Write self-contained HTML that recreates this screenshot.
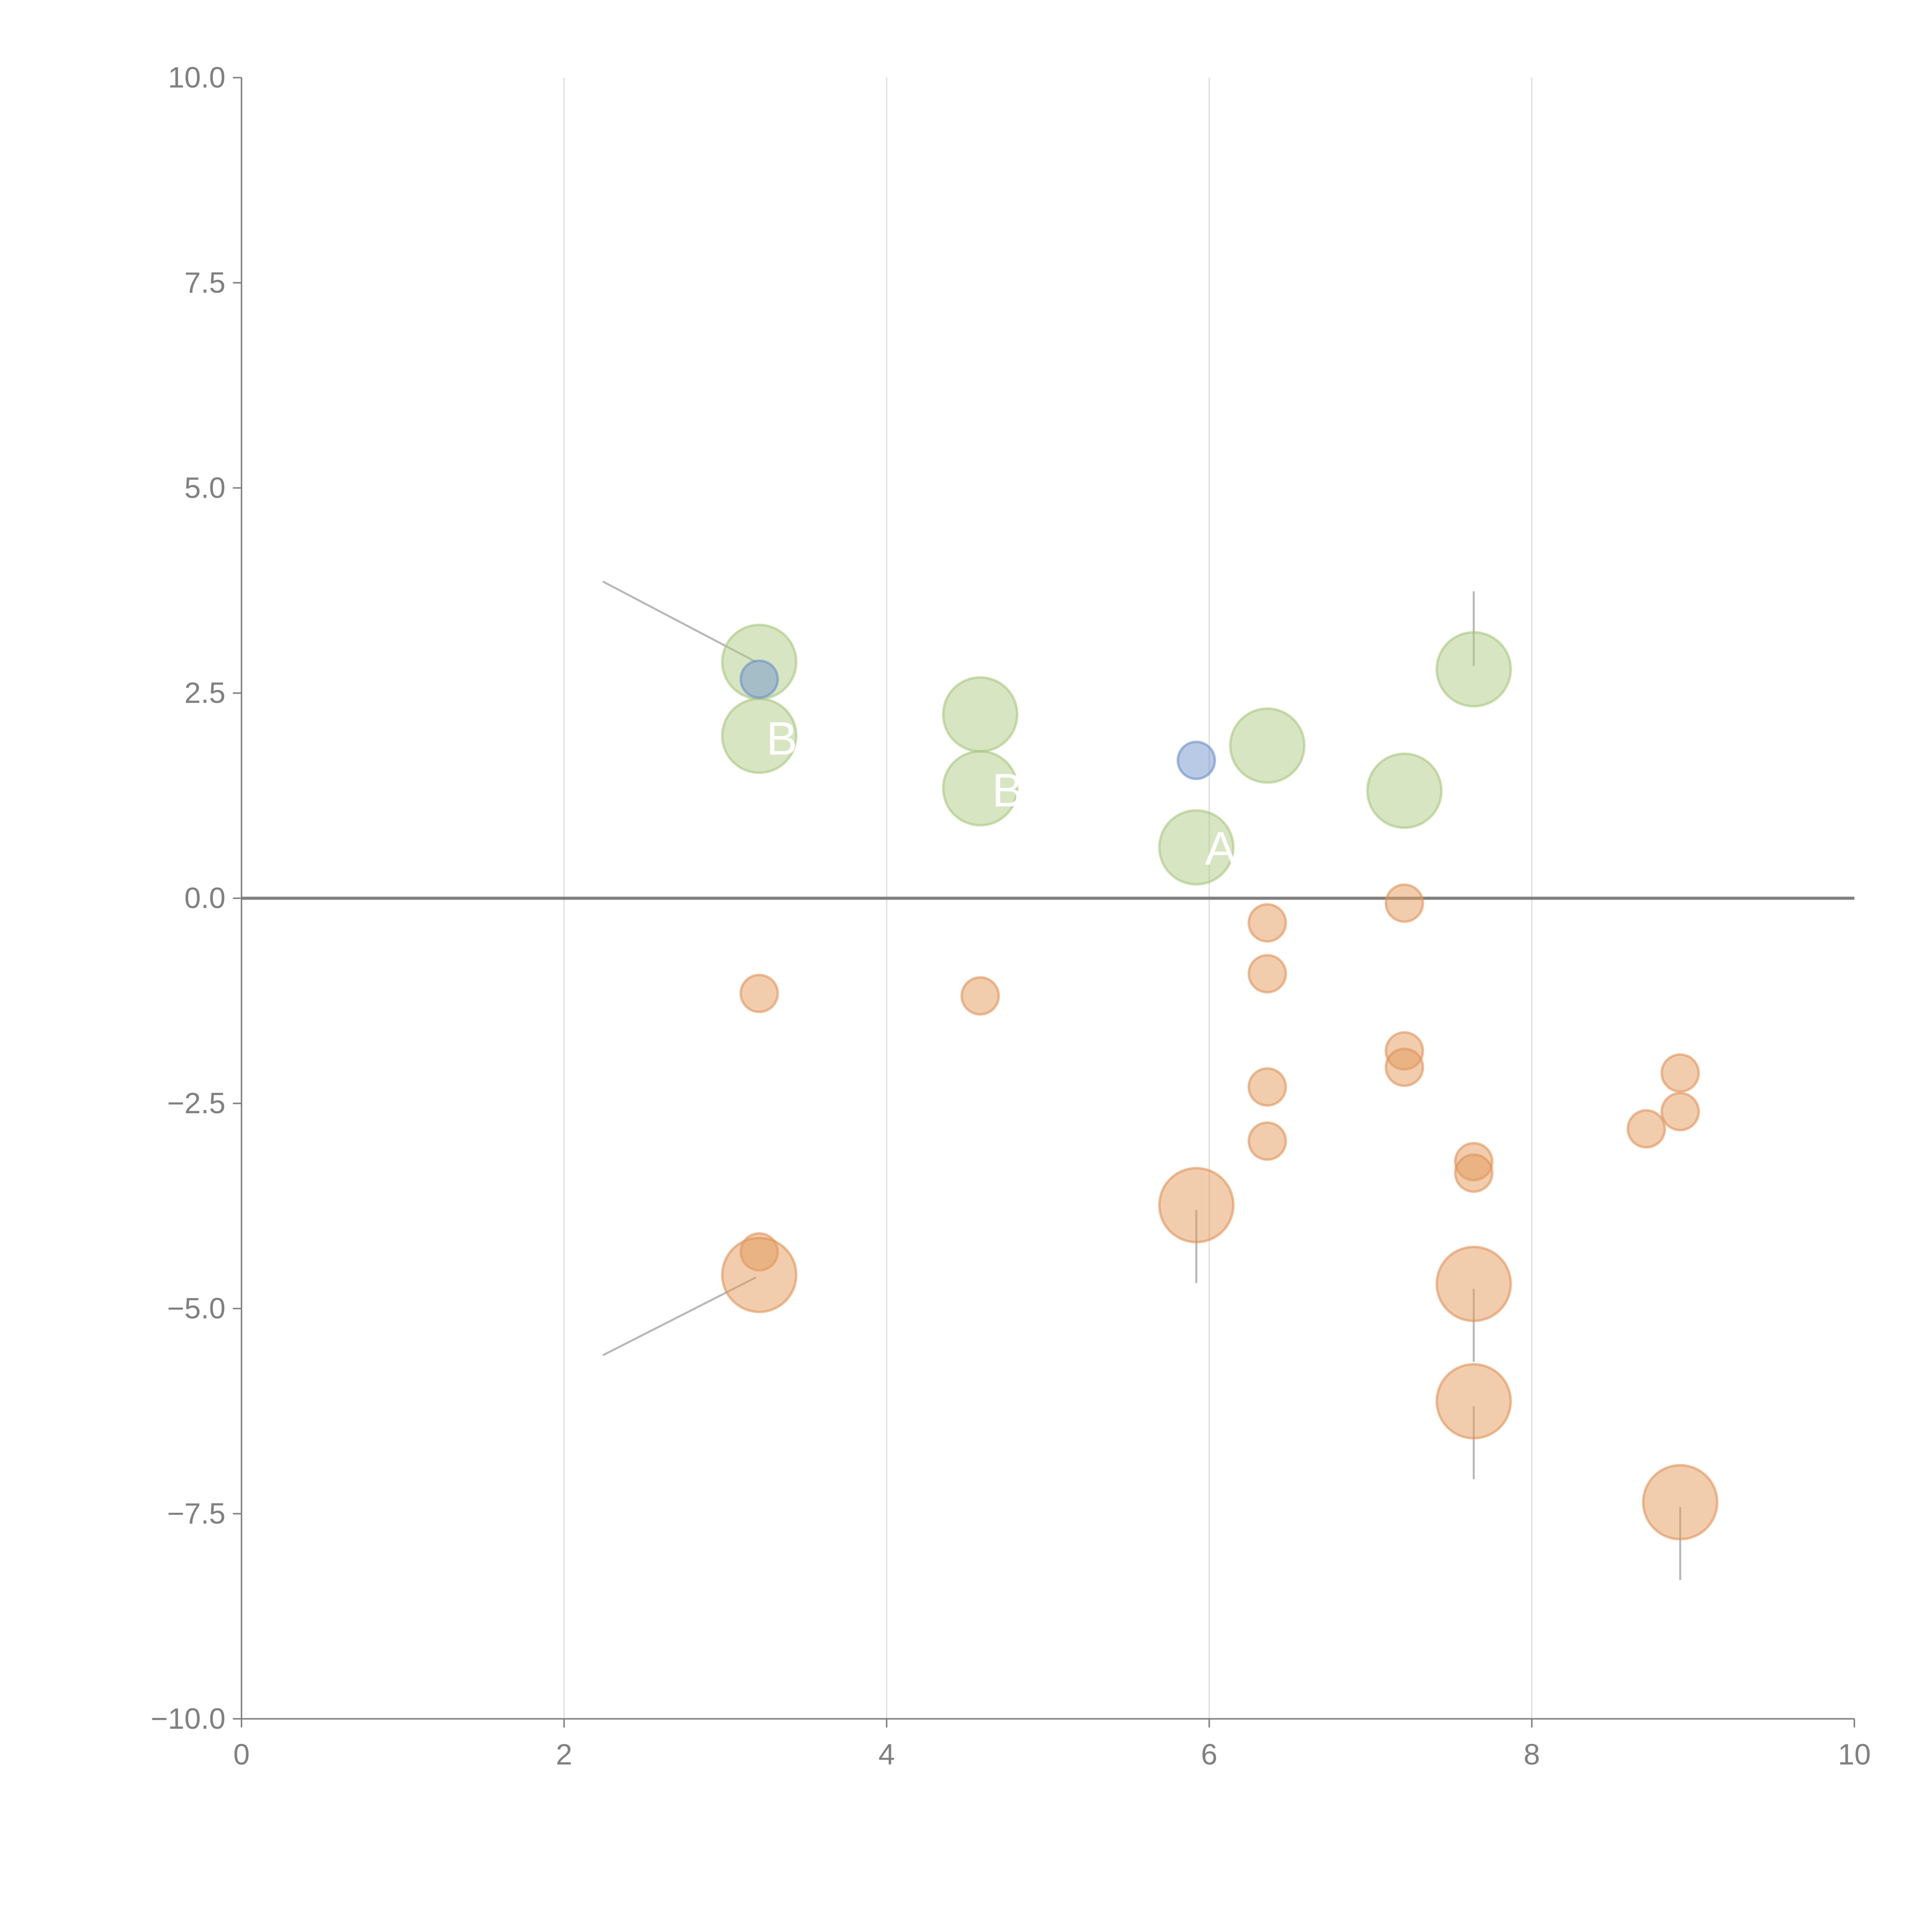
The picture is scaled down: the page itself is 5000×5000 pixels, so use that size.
<!DOCTYPE html>
<html><head><meta charset="utf-8"><style>html,body{margin:0;padding:0;background:#fff}svg{display:block}</style></head>
<body>
<svg id="chart" width="5000" height="5000" viewBox="0 0 1568 1568" xmlns="http://www.w3.org/2000/svg" font-family="Liberation Sans, sans-serif">
<g id="grid"></g>
<g id="axes"></g>
<g id="leaders"></g>
<g id="marks"></g>
<g id="labels"></g>
</svg>
<script>
const xTicks=[0,2,4,6,8,10];
const yTicks=[10,7.5,5,2.5,0,-2.5,-5,-7.5,-10];
const yTickLabels=["10.0","7.5","5.0","2.5","0.0","\u22122.5","\u22125.0","\u22127.5","\u221210.0"];
const greenX=[3.21,3.21,4.58,4.58,6.36,7.64,7.21,5.92];
const greenY=[2.88,1.98,2.24,1.34,1.86,2.79,1.31,0.62];
const blueX=[3.21,5.92];
const blueY=[2.67,1.68];
const orangeSmallX=[3.21,4.58,6.36,6.36,6.36,6.36,7.21,7.21,7.21,7.64,7.64,8.92,8.92,8.71,3.21];
const orangeSmallY=[-1.16,-1.19,-0.30,-0.92,-2.30,-2.96,-0.06,-1.86,-2.06,-3.21,-3.35,-2.13,-2.60,-2.81,-4.31];
const orangeLargeX=[3.21,5.92,7.64,7.64,8.92];
const orangeLargeY=[-4.59,-3.74,-4.70,-6.13,-7.36];
const leaderX1=[2.24,2.24,7.64,5.92,7.64,7.64,8.92];
const leaderY1=[3.86,-5.57,3.74,-3.80,-4.76,-6.19,-7.42];
const leaderX2=[3.19,3.19,7.64,5.92,7.64,7.64,8.92];
const leaderY2=[2.88,-4.62,2.83,-4.69,-5.65,-7.08,-8.31];
const labelText=["B","B","A"];
const labelX=[3.35,4.75,6.07];
const labelY=[1.96,1.33,0.62];

const NS="http://www.w3.org/2000/svg";
const X=v=>196+v*130.9, Y=v=>729-v*66.6;
function mk(tag,attrs,parent){const e=document.createElementNS(NS,tag);for(const k in attrs)e.setAttribute(k,attrs[k]);document.getElementById(parent).appendChild(e);return e;}
xTicks.forEach(v=>{
  if(v>0&&v<10){const g=mk('line',{x1:X(v),x2:X(v),y1:Y(10),y2:Y(-10),stroke:'#dddddd','stroke-width':1},'grid');
  
  }
  const t=mk('line',{x1:X(v),x2:X(v),y1:Y(-10),y2:Y(-10)+7,stroke:'#808080','stroke-width':1.2},'axes');
  
  
  const l=mk('text',{x:X(v),y:Y(-10)+37,'text-anchor':'middle','font-size':24,fill:'#808080'},'axes');l.textContent=v;
  
  
});
yTicks.forEach((v,i)=>{
  const t=mk('line',{x1:X(0)-7,x2:X(0),y1:Y(v),y2:Y(v),stroke:'#808080','stroke-width':1.2},'axes');
  
  
  const l=mk('text',{x:X(0)-13,y:Y(v)+8,'text-anchor':'end','font-size':24,fill:'#808080'},'axes');l.textContent=yTickLabels[i];
  
  
});
let a=mk('line',{x1:X(0),x2:X(0),y1:Y(10),y2:Y(-10),stroke:'#808080','stroke-width':1.2},'axes');


a=mk('line',{x1:X(0),x2:X(10),y1:Y(-10),y2:Y(-10),stroke:'#808080','stroke-width':1.2},'axes');


a=mk('line',{x1:X(0),x2:X(10),y1:Y(0),y2:Y(0),stroke:'#808080','stroke-width':2.5},'axes');


leaderX1.forEach((v,i)=>{
  const l=mk('line',{x1:X(v),y1:Y(leaderY1[i]),x2:X(leaderX2[i]),y2:Y(leaderY2[i]),stroke:'#aaaaaa','stroke-width':1.6,'stroke-opacity':0.85},'leaders');
  
  
});
function bubbles(xs,ys,r,fill,stroke,name){xs.forEach((v,i)=>{
  const c=mk('circle',{cx:X(v),cy:Y(ys[i]),r:r,fill:fill,'fill-opacity':0.5,stroke:stroke,'stroke-opacity':0.6,'stroke-width':2},'marks');
  
  
});}
bubbles(greenX,greenY,30,'#b2cc85','#a8c67e','green-bubble');
bubbles(blueX,blueY,15,'#7196cc','#6a8fc6','blue-bubble');
bubbles(orangeSmallX,orangeSmallY,15,'#e49a5c','#e0925a','orange-small-bubble');
bubbles(orangeLargeX,orangeLargeY,30,'#e49a5c','#e0925a','orange-large-bubble');
labelText.forEach((s,i)=>{
  const t=mk('text',{x:X(labelX[i]),y:Y(labelY[i])+14,'text-anchor':'middle','font-size':38,fill:'#ffffff'},'labels');t.textContent=s;
  
  
});
</script>
</body></html>
